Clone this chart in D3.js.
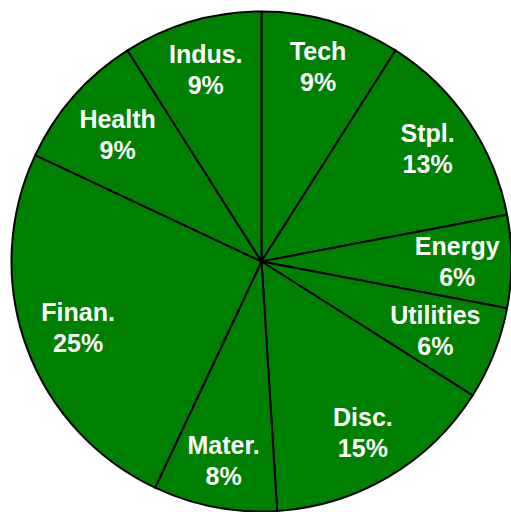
<!DOCTYPE html>
<html>
<head>
<meta charset="utf-8">
<script src="https://cdn.jsdelivr.net/npm/d3@7"></script>
<style>
  html, body { margin: 0; padding: 0; background: #fff; }
</style>
</head>
<body>
<div id="chart"></div>
<script>
// sectors, clockwise from 12 o'clock
var sectors = ["Tech", "Stpl.", "Energy", "Utilities", "Disc.", "Mater.", "Finan.", "Health", "Indus."];
var weights = [9, 13, 6, 6, 15, 8, 25, 9, 9];

var width = 511, height = 512;
var cx = 261.5, cy = 261.5, radius = 250;

var svg = d3.select("#chart").append("svg")
    .attr("width", width)
    .attr("height", height);

var data = sectors.map(function(s, i) { return { name: s, value: weights[i] }; });

var pie = d3.pie()
    .sort(null)
    .value(function(d) { return d.value; });

var arc = d3.arc()
    .innerRadius(0)
    .outerRadius(radius);

var g = svg.append("g")
    .attr("transform", "translate(" + cx + "," + cy + ")");

var arcs = pie(data);

g.selectAll("path")
  .data(arcs)
  .enter().append("path")
    .attr("d", arc)
    .attr("fill", "#008000")
    .attr("stroke", "#000")
    .attr("stroke-width", 2)
    .attr("stroke-linejoin", "round");

var lineH = 31;
var labels = g.selectAll("text")
  .data(arcs)
  .enter().append("text")
    .attr("fill", "#fff")
    .attr("font-family", "Liberation Sans, Arial, sans-serif")
    .attr("font-weight", "bold")
    .attr("font-size", 25)
    .attr("text-anchor", "middle");

labels.append("tspan")
    .attr("x", 0)
    .attr("y", -lineH / 2 + 8)
    .text(function(d) { return d.data.name; });

labels.append("tspan")
    .attr("x", 0)
    .attr("y", lineH / 2 + 8)
    .text(function(d) { return d.data.value + "%"; });

// push each label out until its outer corner sits just inside the rim
var target = 240;
labels.attr("transform", function(d) {
  var bb = this.getBBox();
  var a = (d.startAngle + d.endAngle) / 2;
  var s = Math.abs(Math.sin(a)), c = Math.abs(Math.cos(a));
  var W = bb.width / 2, H = bb.height / 2;
  var b = s * W + c * H;
  var r = -b + Math.sqrt(b * b - (W * W + H * H - target * target));
  var x = r * Math.sin(a), y = -r * Math.cos(a);
  var ox = bb.x + bb.width / 2, oy = bb.y + bb.height / 2;
  return "translate(" + (x - ox) + "," + (y - oy) + ")";
});
</script>
</body>
</html>
